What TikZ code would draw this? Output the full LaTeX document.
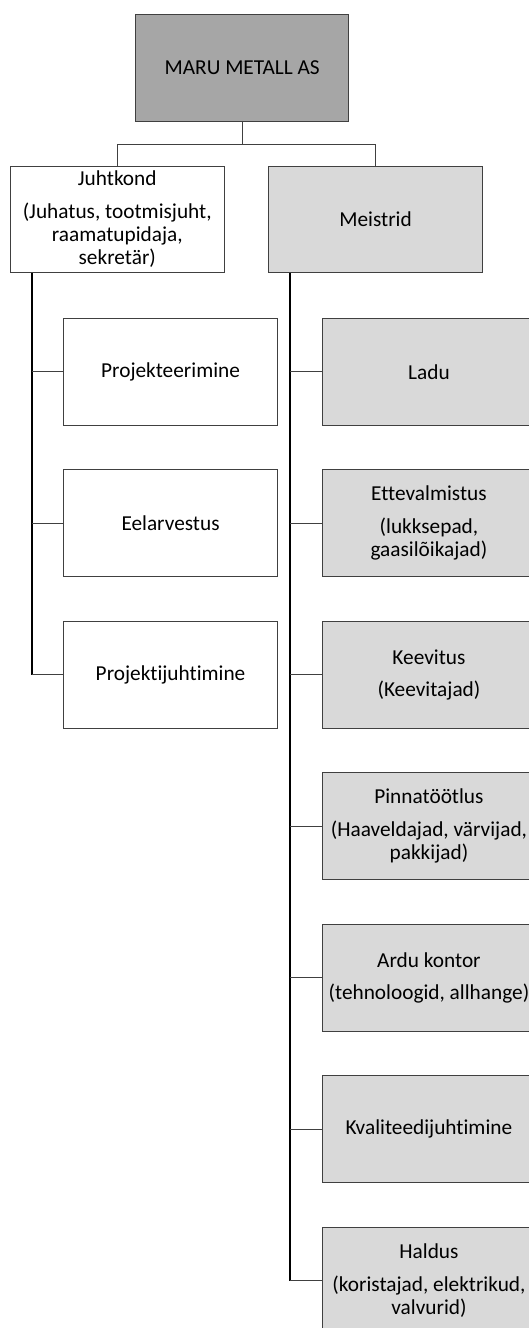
\documentclass[tikz,border=0pt]{standalone}
\usepackage{fontspec}
\setmainfont{Carlito}[Ligatures=NoCommon]

\definecolor{topgray}{HTML}{A6A6A6}
\definecolor{meistgray}{HTML}{D9D9D9}
\definecolor{edgegray}{HTML}{404040}

\tikzset{
  unit/.style={draw=edgegray, line width=1pt, fill=white,
    minimum width=213.5pt, minimum height=106.7pt, inner sep=2pt,
    align=center, font=\fontsize{21.3}{23.3}\selectfont},
  spine/.style={line width=2pt, black},
  stub/.style={line width=1pt, edgegray},
}

\begin{document}
\begin{tikzpicture}

  \newcommand\Dy{151.5pt}
  \newcommand\Lx{170.55pt}
  \newcommand\Rx{428.95pt}

  \useasboundingbox (0pt,0pt) rectangle (529pt,-1328pt);

  \node[unit, fill=topgray] (maru) at (242.2pt,-68pt) {MARU METALL AS};

  \node[unit] (juht) at (117.25pt,-219.35pt)
    {Juhtkond\\[9pt](Juhatus, tootmisjuht,\\raamatupidaja,\\sekretär)};
  \node[unit, fill=meistgray] (meist) at (375.6pt,-219.35pt) {Meistrid};

  % juhtkonna all
  \node[unit] (proj)     at (\Lx, -371.7pt)        {Projekteerimine};
  \node[unit] (eelarv)   at (\Lx, -371.7pt-\Dy)    {Eelarvestus};
  \node[unit] (projjuht) at (\Lx, -371.7pt-2*\Dy)  {Projektijuhtimine};

  % meistrite all
  \node[unit, fill=meistgray] (ladu)   at (\Rx, -371.7pt)       {Ladu};
  \node[unit, fill=meistgray] (ettev)  at (\Rx, -371.7pt-\Dy)
    {Ettevalmistus\\[9pt](lukksepad,\\gaasilõikajad)};
  \node[unit, fill=meistgray] (keev)   at (\Rx, -371.7pt-2*\Dy)
    {Keevitus\\[9pt](Keevitajad)};
  \node[unit, fill=meistgray] (pinna)  at (\Rx, -371.7pt-3*\Dy)
    {Pinnatöötlus\\[9pt](Haaveldajad, värvijad,\\pakkijad)};
  \node[unit, fill=meistgray] (ardu)   at (\Rx, -371.7pt-4*\Dy)
    {Ardu kontor\\[9pt](tehnoloogid, allhange)};
  \node[unit, fill=meistgray] (kval)   at (\Rx, -371.7pt-5*\Dy) {Kvaliteedijuhtimine};
  \node[unit, fill=meistgray] (haldus) at (\Rx, -371.7pt-6*\Dy)
    {Haldus\\[9pt](koristajad, elektrikud,\\valvurid)};

  \coordinate (split) at (242.2pt,-144pt);
  \draw[stub] (maru) -- (split) -| (juht);
  \draw[stub] (split) -| (meist);

  \coordinate (lsp) at ([xshift=21.5pt]juht.south west);
  \draw[spine] (lsp) -- (lsp |- projjuht.west);
  \draw[stub] (lsp |- proj.west) -- (proj);
  \draw[stub] (lsp |- eelarv.west) -- (eelarv);
  \draw[stub] (lsp |- projjuht.west) -- (projjuht);

  \coordinate (rsp) at ([xshift=21.2pt]meist.south west);
  \draw[spine] (rsp) -- (rsp |- haldus.west);
  \draw[stub] (rsp |- ladu.west) -- (ladu);
  \draw[stub] (rsp |- ettev.west) -- (ettev);
  \draw[stub] (rsp |- keev.west) -- (keev);
  \draw[stub] (rsp |- pinna.west) -- (pinna);
  \draw[stub] (rsp |- ardu.west) -- (ardu);
  \draw[stub] (rsp |- kval.west) -- (kval);
  \draw[stub] (rsp |- haldus.west) -- (haldus);

\end{tikzpicture}
\end{document}
